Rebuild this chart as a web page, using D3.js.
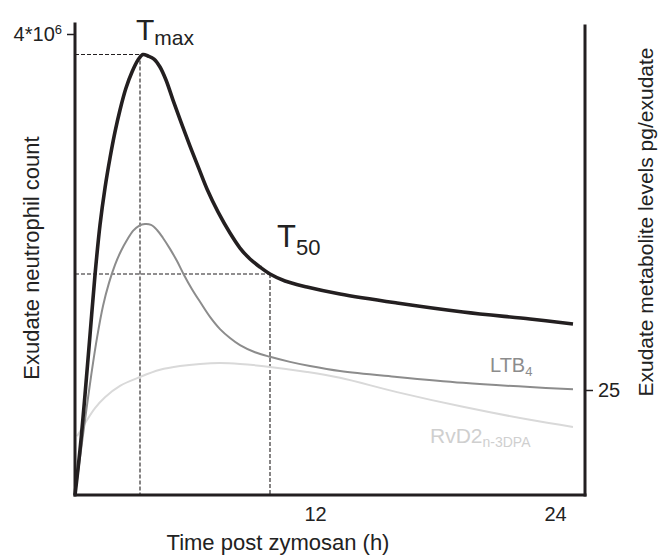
<!DOCTYPE html>
<html>
<head>
<meta charset="utf-8">
<script src="https://cdn.jsdelivr.net/npm/d3@7"></script>
<style>
  html, body { margin: 0; padding: 0; background: #fff; }
  svg text { font-family: "Liberation Sans", Arial, Helvetica, sans-serif; }
</style>
</head>
<body>
<svg id="chart" width="660" height="557"></svg>
<script>
// ---- data ----
const neutrophilTime  = [0, 0.25, 0.5, 0.75, 1.0, 1.25, 1.5, 1.75, 2.0, 2.25, 2.55, 2.85, 3.15, 3.4, 3.65, 3.95, 4.25, 4.55, 4.9, 5.3, 5.75, 6.2, 6.6, 7.15, 7.75, 8.25, 8.75, 9.25, 9.75, 10.5, 11.6, 13.25, 16.1, 19.4, 22.75, 24.9];
const neutrophilCount = [0, 0.390e6, 0.868e6, 1.388e6, 1.909e6, 2.343e6, 2.664e6, 2.924e6, 3.150e6, 3.341e6, 3.531e6, 3.670e6, 3.774e6, 3.822e6, 3.809e6, 3.783e6, 3.714e6, 3.601e6, 3.427e6, 3.236e6, 3.028e6, 2.829e6, 2.655e6, 2.456e6, 2.273e6, 2.143e6, 2.048e6, 1.978e6, 1.918e6, 1.857e6, 1.805e6, 1.744e6, 1.666e6, 1.588e6, 1.527e6, 1.484e6];

const ltb4Time  = [0, 0.3, 0.6, 0.85, 1.1, 1.4, 1.7, 2.0, 2.3, 2.6, 2.9, 3.2, 3.5, 3.8, 4.1, 4.4, 4.75, 5.1, 5.45, 5.85, 6.25, 6.75, 7.25, 7.75, 8.25, 9.0, 9.75, 10.75, 11.75, 13.25, 16.1, 19.4, 22.75, 24.9];
const ltb4Level = [0, 10.7, 21.4, 29.8, 37.4, 45.0, 50.5, 54.8, 58.1, 60.7, 62.9, 64.1, 64.5, 64.3, 63.1, 61.2, 58.6, 55.7, 52.4, 49.0, 46.0, 42.4, 39.5, 37.4, 35.7, 34.0, 32.9, 31.7, 30.7, 29.5, 28.1, 26.7, 25.7, 25.2];

const rvd2Time  = [0.1, 0.5, 1.0, 1.5, 2.25, 3.25, 4.25, 5.25, 6.25, 7.25, 8.25, 9.75, 11.6, 13.25, 16.1, 19.4, 22.75, 24.9];
const rvd2Level = [14.0, 17.1, 20.7, 23.3, 26.0, 28.1, 29.8, 30.7, 31.2, 31.4, 31.2, 30.5, 29.3, 27.9, 24.5, 21.0, 17.9, 16.2];

const xTicks = [12, 24];
const leftTicks = [4e6];
const rightTicks = [25];
const tMax = 3.25;    // time of dashed T_max marker
const t50 = 9.75;     // time of dashed T_50 marker

// ---- layout ----
const svg = d3.select("#chart");
const ink = "#231f20";
const textInk = "#222";
const x = d3.scaleLinear().domain([0, 25.5]).range([75, 585]);
const yL = d3.scaleLinear().domain([0, 4e6]).range([495, 34]);
const yR = d3.scaleLinear().domain([0, 25]).range([495, 390]);

const zip = (ts, vs) => ts.map((t, i) => [t, vs[i]]);
const neut = zip(neutrophilTime, neutrophilCount);
const ltb4 = zip(ltb4Time, ltb4Level);
const rvd2 = zip(rvd2Time, rvd2Level);

// dashed guide lines
const peak = neut.reduce((a, b) => (b[1] > a[1] ? b : a));
const t50Val = neut.find(d => d[0] === t50)[1];
const dash = svg.append("g").attr("stroke", ink).attr("stroke-width", 1.1)
  .attr("stroke-dasharray", "4,2").attr("fill", "none");
dash.append("line").attr("x1", x(0)).attr("x2", x(peak[0])).attr("y1", yL(peak[1])).attr("y2", yL(peak[1]));
dash.append("line").attr("x1", x(tMax)).attr("x2", x(tMax)).attr("y1", yL(peak[1])).attr("y2", yL(0));
dash.append("line").attr("x1", x(0)).attr("x2", x(t50)).attr("y1", yL(t50Val)).attr("y2", yL(t50Val));
dash.append("line").attr("x1", x(t50)).attr("x2", x(t50)).attr("y1", yL(t50Val)).attr("y2", yL(0));

// curves
const curve = d3.curveCatmullRom.alpha(0.5);
const lineL = d3.line().x(d => x(d[0])).y(d => yL(d[1])).curve(curve);
const lineR = d3.line().x(d => x(d[0])).y(d => yR(d[1])).curve(curve);

svg.append("path").datum(rvd2).attr("d", lineR).attr("fill", "none")
  .attr("stroke", "#d9d9d9").attr("stroke-width", 2);
svg.append("path").datum(ltb4).attr("d", lineR).attr("fill", "none")
  .attr("stroke", "#8c8c8c").attr("stroke-width", 2);
svg.append("path").datum(neut).attr("d", lineL).attr("fill", "none")
  .attr("stroke", ink).attr("stroke-width", 3.6).attr("stroke-linejoin", "round");

// axes
const axisStyle = g => {
  g.selectAll("path.domain").remove();
  g.selectAll(".tick line").attr("stroke", ink).attr("stroke-width", 1.5);
  g.selectAll(".tick text").attr("fill", textInk);
};

const gL = svg.append("g").attr("transform", `translate(${x(0)},0)`)
  .call(d3.axisLeft(yL).tickValues(leftTicks).tickSize(8).tickFormat(""))
  .call(axisStyle);
gL.selectAll(".tick").append("text")
  .attr("x", -13).attr("y", 6).attr("text-anchor", "end").attr("fill", textInk)
  .style("font-size", "20px")
  .each(function(d) {
    const e = Math.floor(Math.log10(d) + 1e-9);
    const m = Math.round(d / Math.pow(10, e));
    const t = d3.select(this);
    t.append("tspan").text(m + "*10");
    t.append("tspan").attr("dy", -7).style("font-size", "13px").text(e);
  });

const gR = svg.append("g").attr("transform", `translate(${x(25.5)},0)`)
  .call(d3.axisRight(yR).tickValues(rightTicks).tickSize(8).tickPadding(5))
  .call(axisStyle);
gR.selectAll(".tick text").style("font-size", "20px");

const gB = svg.append("g").attr("transform", `translate(0,${yL(0)})`)
  .call(d3.axisBottom(x).tickValues(xTicks).tickSize(0).tickPadding(12))
  .call(axisStyle);
gB.selectAll(".tick text").style("font-size", "20px");

// axis lines (thick frame)
const frame = svg.append("g").attr("stroke", ink).attr("stroke-width", 3).attr("fill", "none")
  .attr("stroke-linecap", "square");
frame.append("line").attr("x1", x(0)).attr("x2", x(0)).attr("y1", 24).attr("y2", yL(0));
frame.append("line").attr("x1", x(25.5)).attr("x2", x(25.5)).attr("y1", 26).attr("y2", yL(0));
frame.append("line").attr("x1", x(0)).attr("x2", x(25.5)).attr("y1", yL(0)).attr("y2", yL(0));

// axis titles
svg.append("text").attr("x", 278).attr("y", 550).attr("text-anchor", "middle")
  .attr("fill", textInk).style("font-size", "22px").text("Time post zymosan (h)");
svg.append("text").attr("transform", "translate(39,258) rotate(-90)").attr("text-anchor", "middle")
  .attr("fill", textInk).style("font-size", "22px").text("Exudate neutrophil count");
svg.append("text").attr("transform", "translate(653,222) rotate(-90)").attr("text-anchor", "middle")
  .attr("fill", textInk).style("font-size", "21px").text("Exudate metabolite levels pg/exudate");

// annotations
const tmaxLbl = svg.append("text").attr("x", 136).attr("y", 40).attr("fill", textInk).style("font-size", "30px");
tmaxLbl.append("tspan").text("T");
tmaxLbl.append("tspan").attr("dy", 5).style("font-size", "21px").text("max");

const t50Lbl = svg.append("text").attr("x", 277).attr("y", 247).attr("fill", textInk).style("font-size", "31px");
t50Lbl.append("tspan").text("T");
t50Lbl.append("tspan").attr("dy", 8).style("font-size", "22px").text("50");

const ltbLbl = svg.append("text").attr("x", 490).attr("y", 372).attr("fill", "#8c8c8c").style("font-size", "20px");
ltbLbl.append("tspan").text("LTB");
ltbLbl.append("tspan").attr("dy", 4).style("font-size", "13px").text("4");

const rvLbl = svg.append("text").attr("x", 430).attr("y", 443).attr("fill", "#cfcfcf").style("font-size", "21px");
rvLbl.append("tspan").text("RvD2");
rvLbl.append("tspan").attr("dy", 4).style("font-size", "14px").text("n-3DPA");
</script>
</body>
</html>
